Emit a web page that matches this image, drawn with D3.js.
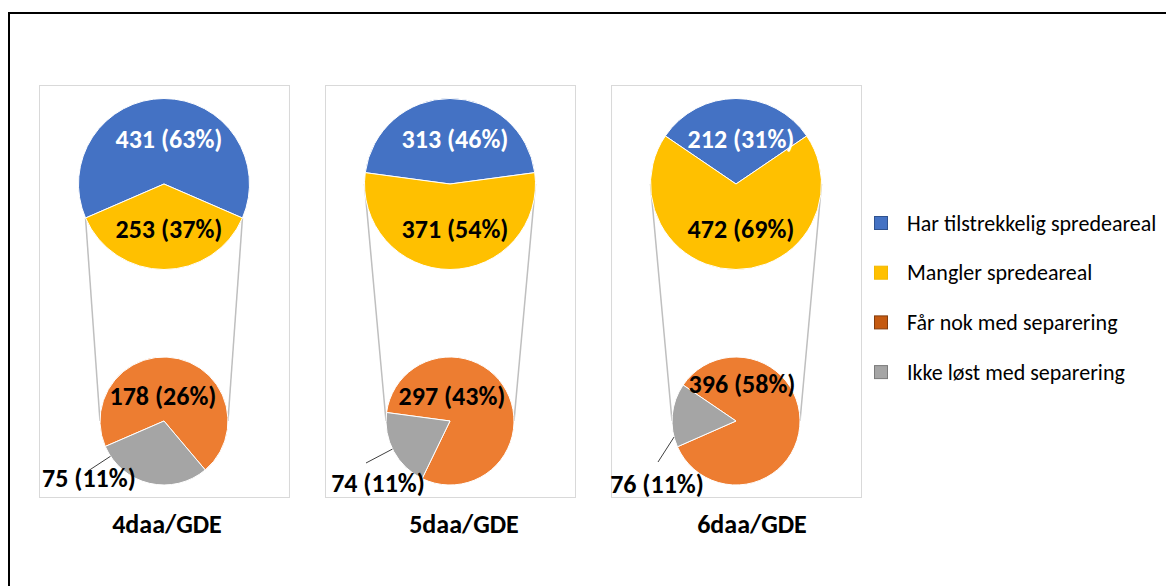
<!DOCTYPE html>
<html>
<head>
<meta charset="utf-8">
<script src="https://cdn.jsdelivr.net/npm/d3@7"></script>
<style>
  body { margin: 0; background: #fff; }
  svg { display: block; }
</style>
</head>
<body>
<div id="chart"></div>
<script>
// data
var categories = ["4daa/GDE", "5daa/GDE", "6daa/GDE"];
var seriesNames = ["Har tilstrekkelig spredeareal", "Mangler spredeareal", "Får nok med separering", "Ikke løst med separering"];
var harSpredeareal = [431, 313, 212];
var manglerSpredeareal = [253, 371, 472];
var nokSeparering = [178, 297, 396];
var ikkeLost = [75, 74, 76];

// layout / style
var width = 1166, height = 586;
var pieColors = ["#4472C4", "#FFC000", "#ED7D31", "#A5A5A5"];
var legendFill = ["#4472C4", "#FFC000", "#C55A11", "#A5A5A5"];
var legendStroke = ["#2F528F", "#F2B800", "#843C0C", "#7B7B7B"];
var font = "Carlito, Lato, 'Open Sans', sans-serif";
var topY = 184, topR = 85.5, botY = 421, botR = 64;
var orangeLabelOff = [[-1, -25], [2, -25], [6, -37]];
var grayLabelOff = [[-75, 57], [-72, 62], [-79, 63]];
var leaderStart = [[-76, 50], [-84, 42], [-78, 41]];
var leaderAngle = [236.6, 244, 255.5];
var titleDx = [3, 14, 16];

var svg = d3.select("#chart")
  .append("svg")
  .attr("width", width)
  .attr("height", height);

// outer frame
svg.append("path")
  .attr("d", "M9," + height + "V13H" + width)
  .attr("fill", "none")
  .attr("stroke", "#000")
  .attr("stroke-width", 2);

var x = d3.scaleBand()
  .domain(categories)
  .range([39, 861])
  .paddingInner(0.126)
  .paddingOuter(0);

var pct = function(v, total) { return v + " (" + Math.round(v / total * 100) + "%)"; };

function pt(a, r) { return [r * Math.sin(a), -r * Math.cos(a)]; }

function label(g, px, py, txt, color) {
  g.append("text")
    .attr("x", px)
    .attr("y", py)
    .attr("dy", "0.35em")
    .attr("text-anchor", "middle")
    .style("font-family", font)
    .style("font-weight", "bold")
    .style("font-size", "26px")
    .style("fill", color)
    .text(txt);
}

categories.forEach(function(cat, i) {
  var total = harSpredeareal[i] + manglerSpredeareal[i];
  var rot = -Math.PI * harSpredeareal[i] / total;
  var cx = x(cat) + x.bandwidth() / 2;

  var g = svg.append("g");

  // panel box
  g.append("rect")
    .attr("x", x(cat) + 0.5)
    .attr("y", 85.5)
    .attr("width", x.bandwidth())
    .attr("height", 412)
    .attr("fill", "#fff")
    .attr("stroke", "#d9d9d9")
    .attr("stroke-width", 1);

  var pie = d3.pie().sort(null).value(function(d) { return d.v; })
    .startAngle(rot).endAngle(rot + 2 * Math.PI);

  var topData = pie([{v: harSpredeareal[i], c: 0}, {v: manglerSpredeareal[i], c: 1}]);
  var botData = pie([{v: nokSeparering[i], c: 2}, {v: ikkeLost[i], c: 3}]);

  // connector lines
  var h = Math.PI * manglerSpredeareal[i] / total;
  var aR = Math.max(Math.PI - h, Math.PI / 2);
  var aL = Math.min(Math.PI + h, 3 * Math.PI / 2);
  [[pt(aR, topR), [botR, 0]], [pt(aL, topR), [-botR, 0]]].forEach(function(c) {
    g.append("line")
      .attr("x1", cx + c[0][0]).attr("y1", topY + c[0][1])
      .attr("x2", cx + c[1][0]).attr("y2", botY + c[1][1])
      .attr("stroke", "#bfbfbf")
      .attr("stroke-width", 1.5);
  });

  var arcTop = d3.arc().innerRadius(0).outerRadius(topR);
  var arcBot = d3.arc().innerRadius(0).outerRadius(botR);

  g.append("g").attr("transform", "translate(" + cx + "," + topY + ")")
    .selectAll("path").data(topData).enter().append("path")
    .attr("d", arcTop)
    .attr("fill", function(d) { return pieColors[d.data.c]; })
    .attr("stroke", "#fff")
    .attr("stroke-width", 1);

  g.append("g").attr("transform", "translate(" + cx + "," + botY + ")")
    .selectAll("path").data(botData).enter().append("path")
    .attr("d", arcBot)
    .attr("fill", function(d) { return pieColors[d.data.c]; })
    .attr("stroke", "#fff")
    .attr("stroke-width", 1);

  // top labels
  topData.forEach(function(d) {
    var mid = (d.startAngle + d.endAngle) / 2;
    var p = pt(mid, topR * 0.53);
    label(g, cx + p[0] + 5, topY + p[1], pct(d.data.v, total), d.data.c === 0 ? "#fff" : "#000");
  });

  // bottom labels
  label(g, cx + orangeLabelOff[i][0], botY + orangeLabelOff[i][1], pct(nokSeparering[i], total), "#000");

  var le = pt(leaderAngle[i] * Math.PI / 180, botR);
  g.append("line")
    .attr("x1", cx + leaderStart[i][0]).attr("y1", botY + leaderStart[i][1])
    .attr("x2", cx + le[0]).attr("y2", botY + le[1])
    .attr("stroke", "#404040")
    .attr("stroke-width", 1);

  label(g, cx + grayLabelOff[i][0], botY + grayLabelOff[i][1], pct(ikkeLost[i], total), "#000");

  // category title
  g.append("text")
    .attr("x", cx + titleDx[i])
    .attr("y", 524)
    .attr("dy", "0.35em")
    .attr("text-anchor", "middle")
    .style("font-family", font)
    .style("font-weight", "bold")
    .style("font-size", "26px")
    .style("fill", "#000")
    .text(cat);
});

// legend
var legend = svg.append("g").attr("transform", "translate(874,0)");
seriesNames.forEach(function(name, k) {
  var ly = 223 + k * 49.7;
  legend.append("rect")
    .attr("x", 0.5)
    .attr("y", ly - 6.5)
    .attr("width", 13)
    .attr("height", 13)
    .attr("fill", legendFill[k])
    .attr("stroke", legendStroke[k])
    .attr("stroke-width", 1);
  legend.append("text")
    .attr("x", 33)
    .attr("y", ly)
    .attr("dy", "0.35em")
    .style("font-family", font)
    .style("font-size", "22px")
    .style("fill", "#000")
    .text(name);
});
</script>
</body>
</html>
